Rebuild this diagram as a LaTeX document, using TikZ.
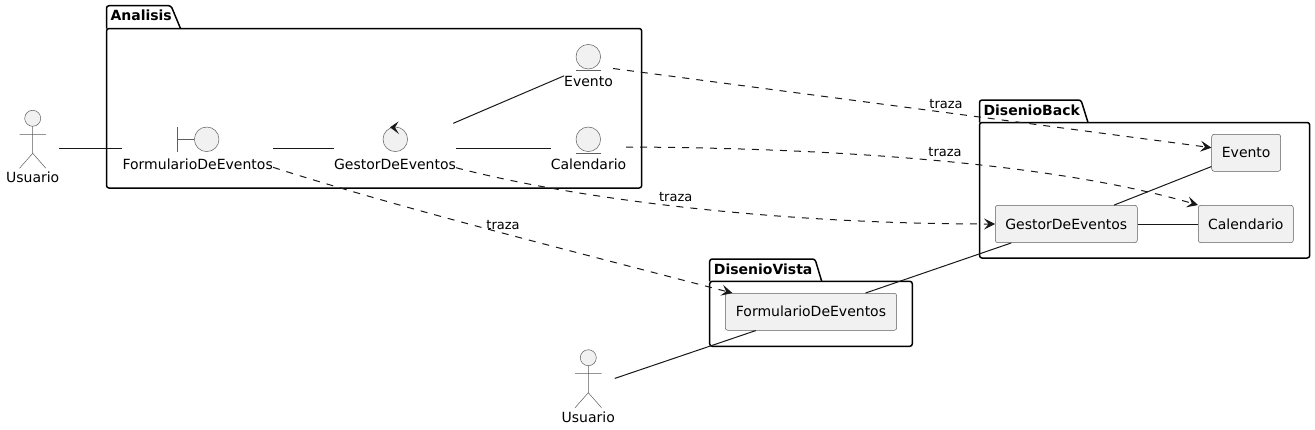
\documentclass[tikz,border=0pt]{standalone}
\usepackage{fontspec}
\setmainfont{DejaVu Sans}
\usetikzlibrary{arrows.meta}
\definecolor{ink}{HTML}{181818}
\definecolor{fillg}{HTML}{F1F1F1}
\tikzset{
  pkgline/.style={draw=black,line width=1.5pt,line join=round,rounded corners=2.5pt},
  pkgtitle/.style={anchor=base west,inner sep=0pt,font=\fontsize{14}{16}\selectfont\bfseries},
  boxnode/.style={draw=ink!70,fill=fillg,line width=0.5pt,rounded corners=2.5pt,inner sep=0pt,text height=10.2pt,text depth=0pt,font=\fontsize{14}{16}\selectfont},
  bound/.style={inner sep=0pt,outer sep=0pt,rectangle},
  icon/.style={draw=ink!70,fill=fillg,line width=0.5pt},
  iconline/.style={draw=ink!70,line width=0.5pt},
  nametext/.style={anchor=base,inner sep=0pt,font=\fontsize{14}{16}\selectfont},
  linktext/.style={anchor=base,inner sep=0pt,font=\fontsize{13}{15}\selectfont},
  solidlink/.style={draw=ink,line width=1pt},
  tracelink/.style={draw=ink,line width=1pt,dash pattern=on 7pt off 7pt,-{Stealth[length=11pt,width=11pt,inset=4.5pt]}},
}
\newcommand{\actorfig}[2]{%
  \draw[icon] (#1,#2) circle (8);
  \draw[iconline] (#1,#2+8) -- (#1,#2+35) (#1-13.2,#2+16) -- (#1+13.2,#2+16)
    (#1-13.2,#2+50) -- (#1,#2+35) -- (#1+13.2,#2+50);
}
\begin{document}
\begin{tikzpicture}[x=1pt,y=-1pt]
\useasboundingbox (0,0) rectangle (1315,429);
\fill[white] (0,0) rectangle (1315,429);
% packages
\draw[pkgline] (106.5,28.5) -- (106.5,5.7) -- (171,5.7) -- (180.5,28.5);
\draw[pkgline] (106.5,28.5) rectangle (641.7,188);
\node[pkgtitle] (tanalisis) at (110.3,20.7) {Analisis};
\draw[pkgline] (979.5,122.5) -- (979.5,100) -- (1081,100) -- (1088,122.5);
\draw[pkgline] (979.5,122.5) rectangle (1309.7,258);
\node[pkgtitle] (tback) at (983.3,115) {DisenioBack};
\draw[pkgline] (709.7,281.3) -- (709.7,259) -- (815,259) -- (821.7,281.3);
\draw[pkgline] (709.7,281.3) rectangle (912.3,346.3);
\node[pkgtitle] (tvista) at (713.7,274) {DisenioVista};
% boxes
\node[boxnode,minimum width=69pt,minimum height=37pt] (bevento) at (1246.2,152.8) {Evento};
\node[boxnode,minimum width=95pt,minimum height=37.4pt] (bcal) at (1245.8,224) {Calendario};
\node[boxnode,minimum width=142pt,minimum height=37.4pt] (bgestor) at (1066.3,224) {GestorDeEventos};
\node[boxnode,minimum width=171.4pt,minimum height=37pt] (bform) at (811,311.8) {FormularioDeEventos};
% bounds of icon + text
\node[bound,minimum width=53pt,minimum height=76.6pt] (actorA) at (32.7,148.3) {};
\node[bound,minimum width=150.6pt,minimum height=42pt] (aform) at (197.7,148.3) {};
\node[bound,minimum width=122pt,minimum height=50pt] (agestor) at (395,148.3) {};
\node[bound,minimum width=75pt,minimum height=42pt] (acal) at (588.5,148.3) {};
\node[bound,minimum width=49pt,minimum height=42pt] (aevento) at (588.5,65.4) {};
\node[bound,minimum width=53pt,minimum height=76.6pt] (actorB) at (588.3,387.4) {};
% actor 1
\actorfig{32.7}{118.3}
\node[nametext] (lusera) at (32.7,182.7) {Usuario};
% boundary
\draw[iconline] (177.3,127.3) -- (177.3,151.7) (177.3,139.3) -- (194.4,139.3);
\draw[icon] (206.7,139.3) circle (12.3);
\node[nametext] (lform) at (197.7,169) {FormularioDeEventos};
% control
\draw[icon] (395.3,139.3) circle (12.3);
\fill[ink] (390,127.3) -- (398.5,121.5) -- (395,127.5) -- (399,134) -- cycle;
\node[nametext] (lgestor) at (395,169) {GestorDeEventos};
% entity calendario
\draw[icon] (588.3,139.3) circle (12.3);
\draw[iconline] (576,153.4) -- (600.6,153.4);
\node[nametext] (lcal) at (588.5,169) {Calendario};
% entity evento
\draw[icon] (588.3,56.7) circle (12.3);
\draw[iconline] (576,70.4) -- (600.6,70.4);
\node[nametext] (levento) at (588.5,86) {Evento};
% actor 2
\actorfig{588.3}{357.7}
\node[nametext] (luserb) at (588.3,422) {Usuario};
% solid links
\draw[solidlink] (actorA) -- (aform);
\draw[solidlink] (aform) -- (agestor);
\draw[solidlink] (agestor) -- (acal);
\draw[solidlink] (agestor) -- (aevento);
\draw[solidlink] (actorB) -- (bform);
\draw[solidlink] (bform) -- (bgestor);
\draw[solidlink] (bgestor) -- (bcal);
\draw[solidlink] (bgestor) -- (bevento);
% trace links
\draw[tracelink] ([yshift=-3.1pt]aevento.east) -- ([yshift=5.1pt]bevento.west);
\draw[tracelink] ([yshift=1.3pt]acal.east) .. controls (850,148) and (1060,165) .. (bcal.north west);
\draw[tracelink] ([yshift=1.6pt]agestor.east |- aform.south) .. controls (580,200) and (780,224) .. (bgestor.west);
\draw[tracelink] ([yshift=2pt]aform.south east) .. controls (400,208) and (560,248) .. ([xshift=7.4pt]bform.north west);
% link labels
\node[linktext] (ta) at (946,108) {traza};
\node[linktext] (tb) at (945,156) {traza};
\node[linktext] (tc) at (675.7,201) {traza};
\node[linktext] (td) at (503,229) {traza};
\end{tikzpicture}
\end{document}
